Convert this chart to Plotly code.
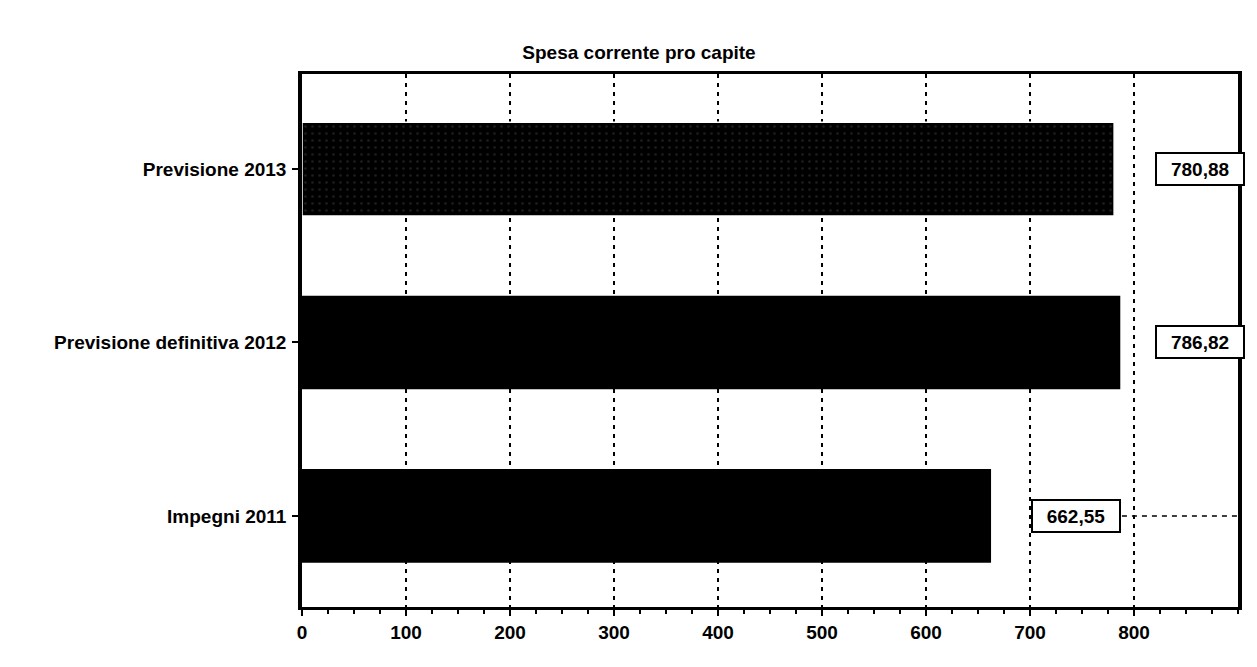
import plotly.graph_objects as go

categories = ["Impegni 2011", "Previsione definitiva 2012", "Previsione 2013"]
values = [662.55, 786.82, 780.88]
label_texts = ["662,55", "786,82", "780,88"]
title_text = "Spesa corrente pro capite"
x_tickvals = [0, 100, 200, 300, 400, 500, 600, 700, 800]

# layout-only positions of the value boxes (paper x)
label_paper_x = [0.827, 0.9595, 0.9595]

FONT = "Liberation Sans, Arial, sans-serif"
W, H = 1249, 659  # page body has an 8px margin

fig = go.Figure()
fig.add_trace(go.Bar(
    y=categories, x=values, orientation="h",
    width=0.54,
    marker=dict(
        color="black",
        line=dict(color=["black", "black", "white"], width=[0, 0, 1.5]),
        pattern=dict(shape=["", "", "."], fgcolor="#3a3a3a", bgcolor="black",
                     size=7, solidity=0.12, fillmode="overlay"),
    ),
    showlegend=False,
    hoverinfo="skip",
))

for cat, txt, px in zip(categories, label_texts, label_paper_x):
    fig.add_annotation(
        x=px, xref="paper", y=cat, yref="y",
        text=txt, showarrow=False,
        font=dict(family=FONT, size=19, color="black", weight="bold"),
        bordercolor="black", borderwidth=2, borderpad=3, bgcolor="white",
        width=80, height=24, align="center",
        xanchor="center", yanchor="middle",
    )

# dashed leader line from the lowest value box to the right border
fig.add_shape(type="line", xref="paper", yref="y",
              x0=label_paper_x[0] + 0.049, x1=1.0, y0=categories[0], y1=categories[0],
              line=dict(color="black", width=1.5, dash="5px,5px"), layer="below")

fig.update_layout(
    width=W, height=H,
    margin=dict(l=294, r=19, t=66, b=60),
    paper_bgcolor="white", plot_bgcolor="white",
    title=dict(text=title_text, x=631 / W, xref="container", y=1 - 44 / H,
               yref="container", xanchor="center", yanchor="middle",
               font=dict(family=FONT, size=19, color="black", weight="bold")),
    font=dict(family=FONT, color="black"),
)

fig.update_xaxes(
    range=[0, 900], tickvals=x_tickvals, ticktext=[str(v) for v in x_tickvals],
    showgrid=True, gridcolor="black", gridwidth=2, griddash="4px,5px",
    showline=True, linecolor="black", linewidth=3, mirror=True,
    ticks="outside", ticklen=6, tickwidth=2, tickcolor="black",
    minor=dict(dtick=25, tick0=0, ticks="outside", ticklen=4, tickwidth=2,
               tickcolor="black", showgrid=False),
    tickfont=dict(family=FONT, size=19, color="black", weight="bold"),
    zeroline=False, fixedrange=True,
)
fig.update_yaxes(
    categoryorder="array", categoryarray=categories,
    range=[-0.525, 2.548],
    showgrid=False, showline=True, linecolor="black", linewidth=3.5, mirror=True,
    ticks="outside", ticklen=6, tickwidth=1.5, tickcolor="black",
    tickfont=dict(family=FONT, size=19, color="black", weight="bold"),
    ticklabelstandoff=2,
    zeroline=False, fixedrange=True,
)

fig.write_html("out.html")
